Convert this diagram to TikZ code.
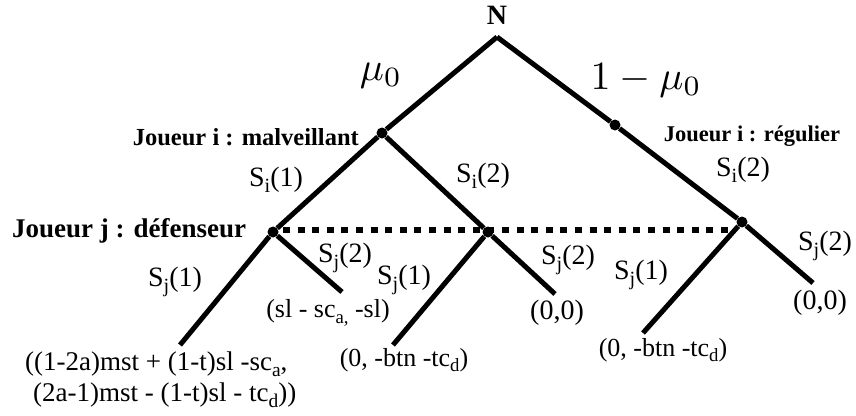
\documentclass[tikz,border=0pt]{standalone}
\usepackage{graphicx}
\usepackage{fontspec}
\setmainfont{Liberation Serif}
\newcommand\sbs[1]{\raisebox{-0.45ex}{\scalebox{0.72}{#1}}}
\begin{document}
\begin{tikzpicture}[x=1pt,y=-1pt,
  branch/.style={line width=5pt},
  info/.style={line width=6pt, dash pattern=on 7pt off 7.6pt},
  dotnode/.style={circle, fill=black, inner sep=0pt, minimum size=11pt},
  lab/.style={inner sep=0pt, font=\fontsize{26}{29}\selectfont},
  slab/.style={inner sep=0pt, font=\fontsize{28}{31}\selectfont},
  player/.style={inner sep=0pt, font=\fontsize{24}{27}\selectfont\bfseries},
  prob/.style={inner sep=0pt}]
\useasboundingbox (0,0) rectangle (856,415);
% tree nodes
\coordinate (N) at (497,37);
\node[dotnode] (m) at (382,133) {};
\node[dotnode] (r) at (615,125) {};
\node[dotnode] (a) at (273,232) {};
\node[dotnode] (b) at (488,232) {};
\node[dotnode] (c) at (742,222) {};
\coordinate (a1) at (180,345);
\coordinate (a2) at (342,292);
\coordinate (b1) at (393,345);
\coordinate (b2) at (555,294);
\coordinate (c1) at (643,333);
\coordinate (c2) at (813,283);
\coordinate (d0) at (283,230);
\coordinate (d1) at (732,230);
% information set
\draw[info] (d0) -- (d1);
% branches
\draw[branch] (N) -- (m);
\draw[branch] (N) -- (r) -- (c);
\draw[branch] (m) -- (a);
\draw[branch] (m) -- (b);
\draw[branch] (a) -- (a1);
\draw[branch] (a) -- (a2);
\draw[branch] (b) -- (b1);
\draw[branch] (b) -- (b2);
\draw[branch] (c) -- (c1);
\draw[branch] (c) -- (c2);
% labels
\node[player, font=\fontsize{28}{30}\selectfont\bfseries] (lN) at (497,15) {N};
\node[prob] (mu) at (381,76) {\scalebox{4}{$\mu_0$}};
\node[prob] (omu) at (646,80) {\scalebox{4}{$1-\mu_0$}};
\node[player, anchor=east, font=\fontsize{24.5}{27}\selectfont\bfseries] (pm) at (359,137) {Joueur i : malveillant};
\node[player, font=\fontsize{22.5}{26}\selectfont\bfseries] (pr) at (752,136) {Joueur i : régulier};
\node[player, anchor=west, font=\fontsize{27}{29}\selectfont\bfseries] (pd) at (12,231) {Joueur j : défenseur};
\node[slab] (l1) at (276,180) {S\sbs{i}(1)};
\node[slab] (l2) at (483,176) {S\sbs{i}(2)};
\node[slab] (l3) at (743,170) {S\sbs{i}(2)};
\node[slab] (l4) at (175,282) {S\sbs{j}(1)};
\node[slab] (l5) at (345,258) {S\sbs{j}(2)};
\node[slab] (l6) at (404,280) {S\sbs{j}(1)};
\node[slab] (l7) at (568,260) {S\sbs{j}(2)};
\node[slab] (l8) at (641,275) {S\sbs{j}(1)};
\node[slab] (l9) at (825,246) {S\sbs{j}(2)};
\node[lab] (p1) at (328,313) {(sl - sc\sbs{a,} -sl)};
\node[lab, anchor=west, font=\fontsize{27}{30}\selectfont] (p2a) at (25,364) {((1-2a)mst + (1-t)sl -sc\sbs{a},};
\node[lab, anchor=west, font=\fontsize{27}{30}\selectfont] (p2b) at (33,395) {(2a-1)mst - (1-t)sl - tc\sbs{d}))};
\node[lab] (p3) at (404,360) {(0, -btn -tc\sbs{d})};
\node[slab] (p4) at (557,313) {(0,0)};
\node[lab] (p5) at (663,350) {(0, -btn -tc\sbs{d})};
\node[slab] (p6) at (820,303) {(0,0)};
\end{tikzpicture}
\end{document}
